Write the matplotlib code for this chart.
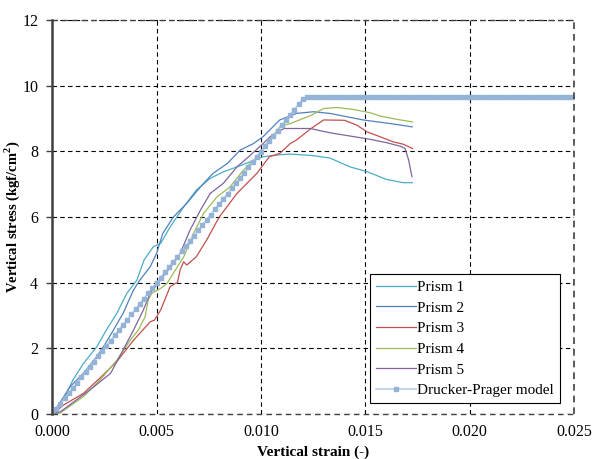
import numpy as np
import matplotlib.pyplot as plt

plt.rcParams['font.family'] = ['Liberation Serif', 'DejaVu Serif']
plt.rcParams['mathtext.fontset'] = 'custom'
plt.rcParams['mathtext.rm'] = 'Liberation Serif'
plt.rcParams['mathtext.bf'] = 'Liberation Serif:bold'

p1_x = [0.0, 0.00054, 0.0010, 0.0015, 0.00214, 0.0026, 0.0031, 0.00358, 0.00406, 0.0044,
        0.00485, 0.0052, 0.00565, 0.0063, 0.0069, 0.00757, 0.0082, 0.00885, 0.0095, 0.0101,
        0.0109, 0.0114, 0.0124, 0.0133, 0.01427, 0.0151, 0.0160, 0.0168, 0.01724]
p1_y = [0.0, 0.43, 1.04, 1.54, 2.05, 2.56, 3.07, 3.68, 4.08, 4.69,
        5.10, 5.20, 5.70, 6.31, 6.82, 7.18, 7.38, 7.53, 7.69, 7.84,
        7.90, 7.92, 7.88, 7.80, 7.53, 7.38, 7.15, 7.05, 7.05]

p2_x = [0.0, 0.0004, 0.00086, 0.0015, 0.00214, 0.00246, 0.00294, 0.0034, 0.0039, 0.0042,
        0.0047, 0.0050, 0.0053, 0.0058, 0.00645, 0.0071, 0.0077, 0.0084, 0.0090, 0.00964,
        0.0101, 0.0109, 0.0117, 0.0125, 0.0133, 0.0141, 0.0149, 0.0156, 0.0162, 0.01724]
p2_y = [0.0, 0.37, 0.83, 1.24, 1.75, 2.05, 2.56, 3.07, 3.78, 4.08,
        4.49, 4.89, 5.50, 6.00, 6.42, 6.92, 7.33, 7.64, 8.04, 8.24,
        8.45, 8.96, 9.16, 9.21, 9.16, 9.06, 8.96, 8.90, 8.85, 8.75]

p3_x = [0.0, 0.00054, 0.0015, 0.0023, 0.0031, 0.0039, 0.0047, 0.0049, 0.0052, 0.00565,
        0.0059, 0.0060, 0.00613, 0.0063, 0.00645, 0.0069, 0.0074, 0.0080, 0.00885, 0.0098,
        0.0104, 0.0109, 0.0114, 0.0117, 0.0124, 0.0130, 0.0140, 0.0146, 0.01507, 0.0157,
        0.01635, 0.01682, 0.01726]
p3_y = [0.0, 0.27, 0.63, 1.10, 1.60, 2.25, 2.81, 2.86, 3.17, 3.88,
        3.98, 4.00, 4.39, 4.64, 4.54, 4.79, 5.30, 6.00, 6.72, 7.33,
        7.84, 7.94, 8.24, 8.35, 8.70, 8.96, 8.95, 8.80, 8.60, 8.45,
        8.29, 8.22, 8.09]

p4_x = [0.0, 0.00038, 0.0015, 0.0023, 0.0031, 0.00374, 0.00413, 0.00445, 0.0046, 0.00477,
        0.0052, 0.0055, 0.0063, 0.00677, 0.00725, 0.0079, 0.00852, 0.00916, 0.0098, 0.0104,
        0.0109, 0.0114, 0.0124, 0.0130, 0.01364, 0.01443, 0.01523, 0.0157, 0.0165, 0.01726]
p4_y = [0.0, 0.03, 0.53, 1.04, 1.64, 2.25, 2.56, 2.96, 3.47, 3.68,
        3.83, 3.98, 4.79, 5.50, 6.11, 6.62, 6.92, 7.43, 7.84, 8.35,
        8.75, 8.85, 9.10, 9.31, 9.34, 9.28, 9.18, 9.08, 8.98, 8.90]

p5_x = [0.0, 0.0004, 0.0018, 0.0028, 0.0034, 0.0039, 0.00437, 0.0047, 0.0053, 0.0058,
        0.00613, 0.0066, 0.0071, 0.00757, 0.0082, 0.00885, 0.0095, 0.0101, 0.01044, 0.0111,
        0.0119, 0.01236, 0.0133, 0.01427, 0.01523, 0.0160, 0.01667, 0.0169, 0.01707, 0.01723]
p5_y = [0.0, 0.07, 0.73, 1.24, 1.95, 2.56, 3.17, 3.68, 4.18, 4.59,
        4.89, 5.60, 6.21, 6.72, 7.03, 7.53, 7.89, 8.24, 8.45, 8.70,
        8.70, 8.70, 8.57, 8.47, 8.37, 8.27, 8.16, 8.09, 7.74, 7.23]

# ---- Drucker-Prager model: linear branch then plateau ----
dp_x = np.arange(0.0, 0.02501, 0.0002)
dp_peak_strain = 0.01207
dp_peak_stress = 9.65
dp_y = np.minimum(dp_x / dp_peak_strain * dp_peak_stress, dp_peak_stress)

series = [
    (p1_x, p1_y, 'Prism 1', '#4BACC6'),
    (p2_x, p2_y, 'Prism 2', '#4F81BD'),
    (p3_x, p3_y, 'Prism 3', '#C0504D'),
    (p4_x, p4_y, 'Prism 4', '#9BBB59'),
    (p5_x, p5_y, 'Prism 5', '#8064A2'),
]

fig = plt.figure(figsize=(5.92, 4.59), dpi=100)
ax = fig.add_axes([0.088, 0.098, 0.882, 0.858])

for x, y, name, c in series:
    ax.plot(x, y, color=c, lw=0.9, label=name)
ax.plot(dp_x, dp_y, color='#B9CDE5', lw=1.2, marker='s', ms=3.2,
        mfc='#95B3D7', mec='#95B3D7', label='Drucker-Prager model')

ax.set_xlim(0, 0.025)
ax.set_ylim(0, 12)
ax.set_xticks(np.arange(0, 0.0251, 0.005))
ax.set_yticks(np.arange(0, 12.1, 2))
ax.set_xticklabels(['%.3f' % v for v in np.arange(0, 0.0251, 0.005)])
ax.tick_params(labelsize=11.5, length=4, width=1, colors='#404040', labelcolor='black')
ax.tick_params(axis='y', pad=6)
ax.tick_params(axis='x', length=0, pad=7)

ax.grid(True, color='black', ls=(0, (4, 3)), lw=0.8)
# border lines at the axis limits are dashed like the grid
ax.axvline(0.025, color='#404040', ls=(0, (4, 3)), lw=1.2, clip_on=False)
ax.axhline(12, color='#404040', ls=(0, (4, 3)), lw=1.0, clip_on=False)
ax.axhline(0, color='#404040', ls=(0, (4, 3)), lw=1.0, clip_on=False)
for s in ['top', 'right', 'bottom']:
    ax.spines[s].set_visible(False)
ax.spines['left'].set_linewidth(1.8)
ax.spines['left'].set_color('#404040')

ax.set_xlabel('Vertical strain (-)', fontsize=11, fontweight='bold', labelpad=4)
ax.set_ylabel('Vertical stress (kgf/cm$^\\mathbf{2}$)', fontsize=10.5, fontweight='bold')
ax.yaxis.set_label_coords(-0.058, 0.5)

leg = ax.legend(loc='lower right', fontsize=11, fancybox=False, framealpha=1,
                edgecolor='black', handlelength=2.6, handletextpad=0.1,
                labelspacing=0.45, borderaxespad=0.4, bbox_to_anchor=(0.985, 0.012))
leg.get_frame().set_linewidth(0.8)

fig.savefig('out.png', dpi=100)
